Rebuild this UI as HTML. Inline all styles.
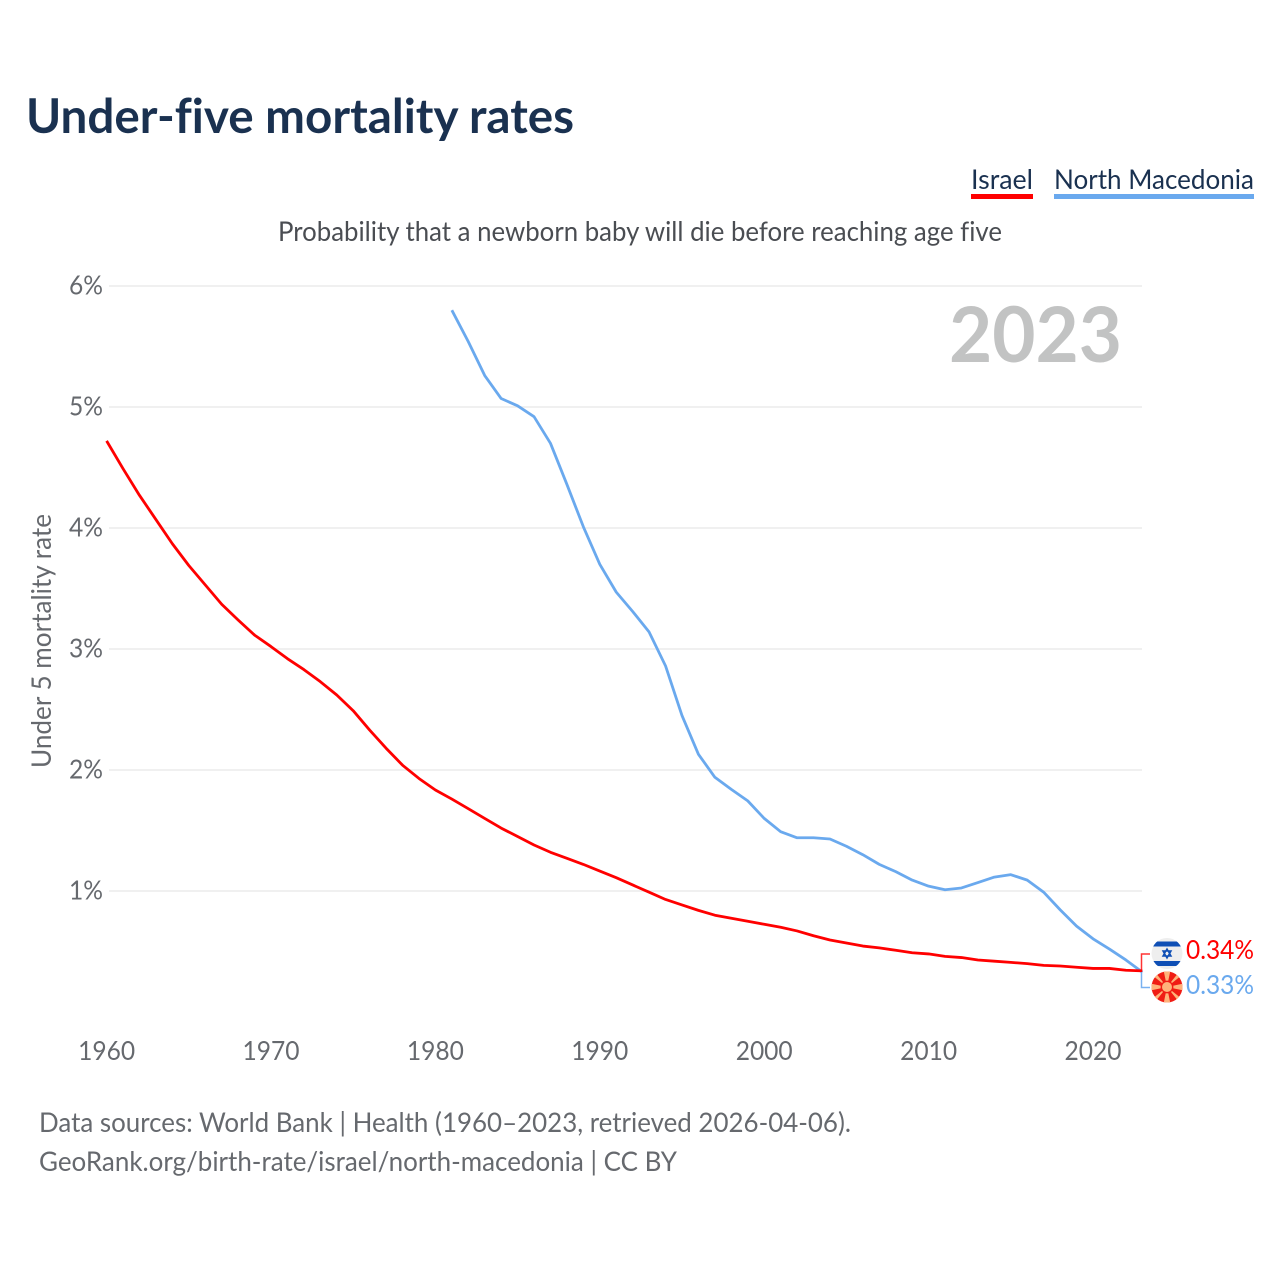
<!DOCTYPE html>
<html lang="en">
<head>
<meta charset="utf-8">
<title>Under-five mortality rates</title>
<style>
html,body{margin:0;padding:0;background:#fff;}
svg{display:block;font-family:"Lato","Liberation Sans",sans-serif;font-variant-ligatures:none;}
</style>
</head>
<body>
<svg id="chart" xmlns="http://www.w3.org/2000/svg" width="1280" height="1280" viewBox="0 0 1280 1280">
  <rect x="0" y="0" width="1280" height="1280" fill="#ffffff"/>
  <text x="26" y="133" font-size="47.5" font-weight="700" fill="#1a3150" textLength="548" lengthAdjust="spacingAndGlyphs">Under-five mortality rates</text>

  <g>
    <g>
      <text x="971" y="189" font-size="27.5" fill="#1a3150" textLength="62" lengthAdjust="spacingAndGlyphs">Israel</text>
      <rect x="971" y="194" width="62" height="5" fill="#ff0000"/>
    </g>
    <g>
      <text x="1054" y="189" font-size="27.5" fill="#1a3150" textLength="200" lengthAdjust="spacingAndGlyphs">North Macedonia</text>
      <rect x="1054" y="194" width="200" height="5" fill="#6aa9ee"/>
    </g>
  </g>

  <text x="278" y="241" font-size="27" fill="#4a4d52" textLength="724" lengthAdjust="spacingAndGlyphs">Probability that a newborn baby will die before reaching age five</text>

  <g id="grid"></g>
  <g id="yticks"></g>
  <g id="xticks"></g>

  <text transform="translate(51,768) rotate(-90)" font-size="27" fill="#66696e" textLength="254" lengthAdjust="spacingAndGlyphs">Under 5 mortality rate</text>
  <text x="949" y="362" font-size="77" font-weight="700" fill="#c2c3c3" textLength="173" lengthAdjust="spacingAndGlyphs">2023</text>

  <g id="series"></g>

  <g>
    <path d="M1141.5 970V954H1150" fill="none" stroke="#ff0000" stroke-opacity="0.8" stroke-width="1.5"/>
    <path d="M1141.5 972V987.5H1150" fill="none" stroke="#6aa9ee" stroke-opacity="0.9" stroke-width="1.5"/>
  </g>

  <defs>
    <clipPath id="clip-il"><circle cx="1167" cy="953.5" r="15.5"/></clipPath>
    <clipPath id="clip-mk"><circle cx="1167" cy="987" r="15.5"/></clipPath>
  </defs>

  <g clip-path="url(#clip-il)">
    <rect x="1150" y="936" width="34" height="36" fill="#eeeeee"/>
    <rect x="1150" y="941.5" width="34" height="5" fill="#0f4fb5"/>
    <rect x="1150" y="961" width="34" height="5" fill="#0f4fb5"/>
    <path d="M1167 949l4 7h-8zM1167 958l-4-7h8z" fill="none" stroke="#0f4fb5" stroke-width="1.5"/>
  </g>

  <g clip-path="url(#clip-mk)">
    <rect x="1150" y="970" width="34" height="34" fill="#f01c14"/>
    <path fill="#ffb27a" d="M1167 987L1163.5 970H1170.5ZM1167 987L1163.5 1004H1170.5ZM1167 987L1150 983.5V990.5ZM1167 987L1184 983.5V990.5ZM1167 987L1152 975L1155 972ZM1167 987L1182 975L1179 972ZM1167 987L1152 999L1155 1002ZM1167 987L1182 999L1179 1002Z"/>
    <circle cx="1167" cy="987" r="6.4" fill="#f01c14"/>
    <circle cx="1167" cy="987" r="5" fill="#ffb27a"/>
  </g>

  <text x="1186" y="959" font-size="26.5" fill="#ff0000" textLength="68" lengthAdjust="spacingAndGlyphs">0.34%</text>
  <text x="1186" y="994" font-size="26.5" fill="#6aa9ee" textLength="68" lengthAdjust="spacingAndGlyphs">0.33%</text>

  <g>
    <text x="39" y="1132" font-size="27.5" fill="#66696e" textLength="812" lengthAdjust="spacingAndGlyphs">Data sources: World Bank | Health (1960–2023, retrieved 2026-04-06).</text>
    <text x="39" y="1171" font-size="27.5" fill="#66696e" textLength="638" lengthAdjust="spacingAndGlyphs">GeoRank.org/birth-rate/israel/north-macedonia | CC BY</text>
  </g>
</svg>

<script>
var yTicks = [1, 2, 3, 4, 5, 6];
var yTickLabels = ["1%", "2%", "3%", "4%", "5%", "6%"];
var xTicks = [1960, 1970, 1980, 1990, 2000, 2010, 2020];
var xTickLabels = ["1960", "1970", "1980", "1990", "2000", "2010", "2020"];

var israelYears = [1960,1961,1962,1963,1964,1965,1966,1967,1968,1969,1970,1971,1972,1973,1974,1975,1976,1977,1978,1979,1980,1981,1982,1983,1984,1985,1986,1987,1988,1989,1990,1991,1992,1993,1994,1995,1996,1997,1998,1999,2000,2001,2002,2003,2004,2005,2006,2007,2008,2009,2010,2011,2012,2013,2014,2015,2016,2017,2018,2019,2020,2021,2022,2023];
var israelValues = [4.72,4.49,4.27,4.07,3.87,3.69,3.53,3.37,3.24,3.115,3.02,2.92,2.83,2.73,2.62,2.49,2.33,2.18,2.04,1.93,1.835,1.76,1.68,1.60,1.52,1.45,1.38,1.32,1.27,1.22,1.165,1.11,1.05,0.99,0.93,0.885,0.84,0.80,0.775,0.75,0.725,0.70,0.67,0.63,0.595,0.57,0.545,0.53,0.51,0.49,0.48,0.46,0.45,0.43,0.42,0.41,0.40,0.385,0.38,0.37,0.36,0.36,0.345,0.34];

var macedoniaYears = [1981,1982,1983,1984,1985,1986,1987,1988,1989,1990,1991,1992,1993,1994,1995,1996,1997,1998,1999,2000,2001,2002,2003,2004,2005,2006,2007,2008,2009,2010,2011,2012,2013,2014,2015,2016,2017,2018,2019,2020,2021,2022,2023];
var macedoniaValues = [5.80,5.54,5.26,5.07,5.01,4.92,4.70,4.36,4.01,3.70,3.47,3.31,3.14,2.86,2.45,2.13,1.94,1.84,1.745,1.60,1.49,1.44,1.44,1.43,1.37,1.30,1.22,1.16,1.09,1.04,1.01,1.025,1.07,1.115,1.135,1.09,0.99,0.845,0.71,0.605,0.52,0.43,0.33];

var NS = "http://www.w3.org/2000/svg";

function xScale(year) {
  return 106.6 + (year - 1960) * 16.44;
}
function yScale(value) {
  return 1012 - value * 121;
}
function make(tag, parent, attrs) {
  var el = document.createElementNS(NS, tag);
  for (var k in attrs) el.setAttribute(k, attrs[k]);
  parent.appendChild(el);
  return el;
}

var grid = document.getElementById("grid");
var yticksGroup = document.getElementById("yticks");
var xticksGroup = document.getElementById("xticks");
var seriesGroup = document.getElementById("series");

yTicks.forEach(function (v, i) {
  var line = make("line", grid, {x1: 109, x2: 1142, y1: yScale(v), y2: yScale(v), stroke: "#f0f0f0", "stroke-width": 2});
  
  
  var label = make("text", yticksGroup, {x: 103, y: yScale(v) + 8.5, "text-anchor": "end", "font-size": 26.5, fill: "#66696e", textLength: 34, lengthAdjust: "spacingAndGlyphs"});
  
  
  label.textContent = yTickLabels[i];
});

xTicks.forEach(function (year, i) {
  var label = make("text", xticksGroup, {x: xScale(year), y: 1060, "text-anchor": "middle", "font-size": 26.5, fill: "#66696e", textLength: 57, lengthAdjust: "spacingAndGlyphs"});
  
  
  label.textContent = xTickLabels[i];
});

function linePath(years, values) {
  return values.map(function (v, i) {
    return (i ? "L" : "M") + xScale(years[i]).toFixed(2) + " " + yScale(v).toFixed(2);
  }).join("");
}

var macedoniaLine = make("path", seriesGroup, {d: linePath(macedoniaYears, macedoniaValues), fill: "none", stroke: "#6aa9ee", "stroke-width": 2.8, "stroke-linejoin": "round"});



var israelLine = make("path", seriesGroup, {d: linePath(israelYears, israelValues), fill: "none", stroke: "#ff0000", "stroke-width": 2.8, "stroke-linejoin": "round"});


</script>
</body>
</html>
